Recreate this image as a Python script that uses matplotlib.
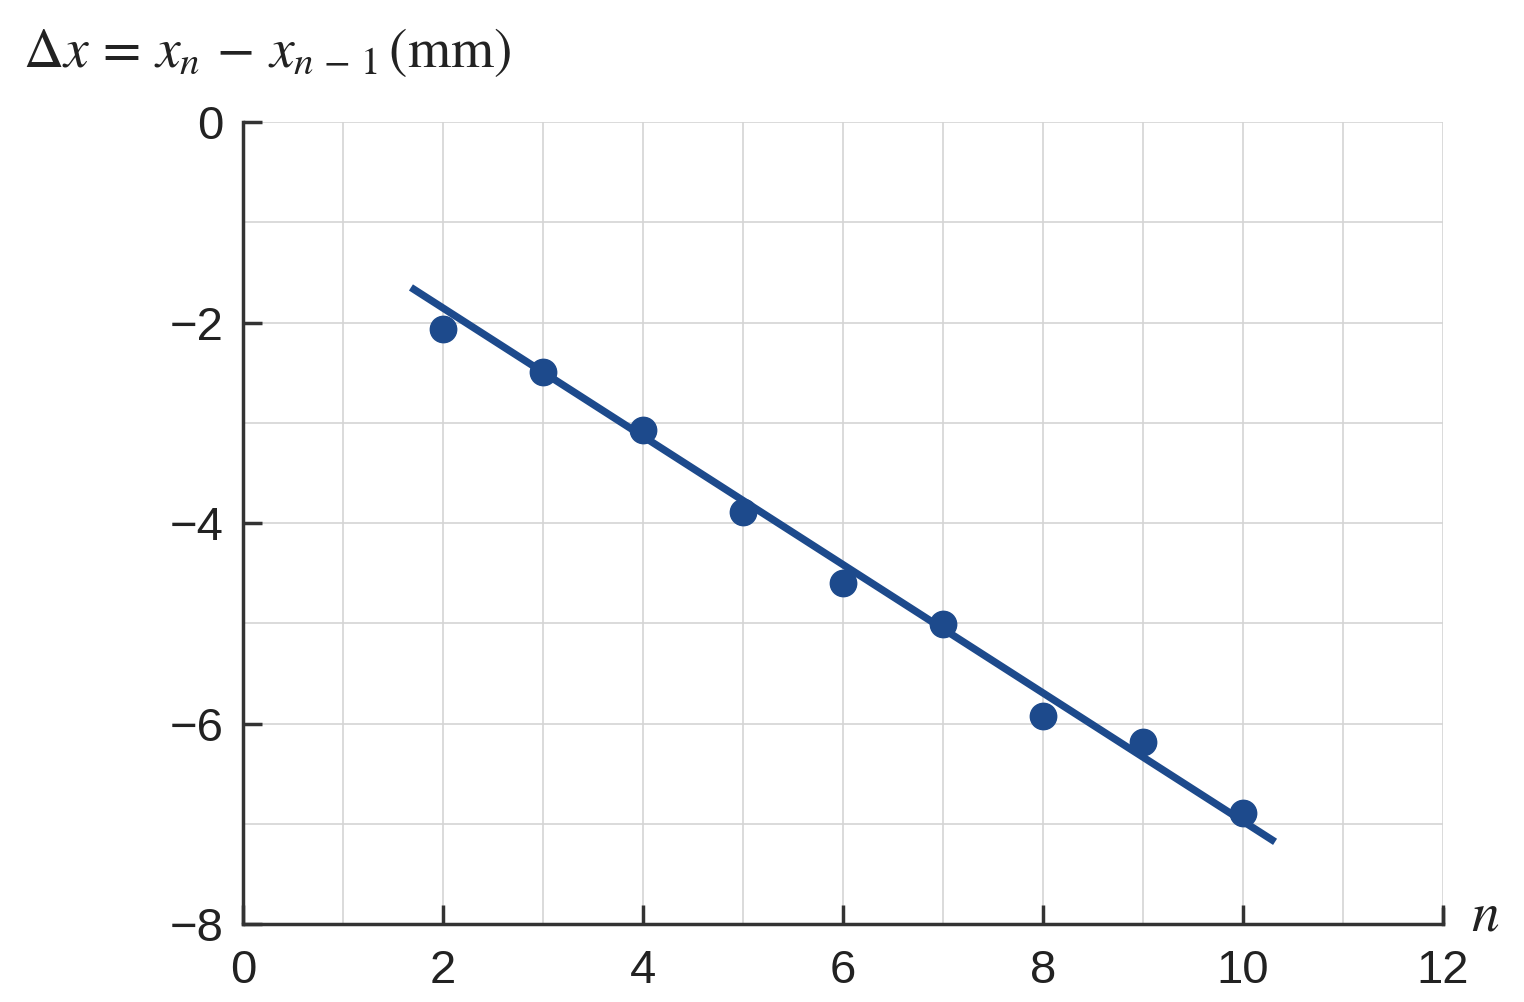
import matplotlib
matplotlib.use("Agg")
import matplotlib.pyplot as plt
import numpy as np

# measured points
n_vals = [2, 3, 4, 5, 6, 7, 8, 9, 10]
dx_vals = [-2.06, -2.49, -3.07, -3.89, -4.60, -5.01, -5.92, -6.18, -6.89]

# fitted line end points
fit_n = [1.68, 10.32]
fit_dx = [-1.65, -7.18]

x_ticks = [0, 2, 4, 6, 8, 10, 12]
y_ticks = [0, -2, -4, -6, -8]

blue = "#1d4a8c"

plt.rcParams['mathtext.fontset'] = 'stix'
plt.rcParams['font.family'] = ['Liberation Sans', 'DejaVu Sans']

fig = plt.figure(figsize=(15.24, 10.02), dpi=100)
ax = fig.add_axes([0.1594, 0.0778, 0.7875, 0.8004])

ax.plot(fit_n, fit_dx, color=blue, lw=5.3, solid_capstyle='butt', zorder=3)
ax.plot(n_vals, dx_vals, 'o', color=blue, ms=19, zorder=4)

ax.set_xlim(0, 12)
ax.set_ylim(-8, 0)
ax.set_xticks(x_ticks)
ax.set_yticks(y_ticks)
ax.set_yticklabels(['0', '\u22122', '\u22124', '\u22126', '\u22128'])
ax.set_xticks(np.arange(0, 13, 1), minor=True)
ax.set_yticks(np.arange(-8, 1, 1), minor=True)
ax.grid(which='both', color='#d4d4d4', lw=1.2)
ax.set_axisbelow(True)

for s in ['top', 'right']:
    ax.spines[s].set_visible(False)
for s in ['left', 'bottom']:
    ax.spines[s].set_linewidth(2.5)
    ax.spines[s].set_color('#333333')

ax.tick_params(which='major', direction='in', length=14, width=2.5, labelsize=34,
               color='#333333', labelcolor='#222222')
ax.tick_params(axis='x', pad=18)
ax.tick_params(axis='y', pad=14)
ax.tick_params(which='minor', length=0)

# small tick at right end of x axis
ax.plot([12, 12], [-8, -7.85], color='#333333', lw=2.5, clip_on=False)

fig.text(0.015, 0.948, r'$\Delta x\,=\,x_n\,-\,x_{n\,-\,1}\,\mathrm{(mm)}$',
         fontsize=40, va='center', ha='left', color='#222222')
fig.text(0.965, 0.085, r'$n$', fontsize=40, va='center', ha='left', color='#222222')

fig.savefig("out.png", dpi=100)
